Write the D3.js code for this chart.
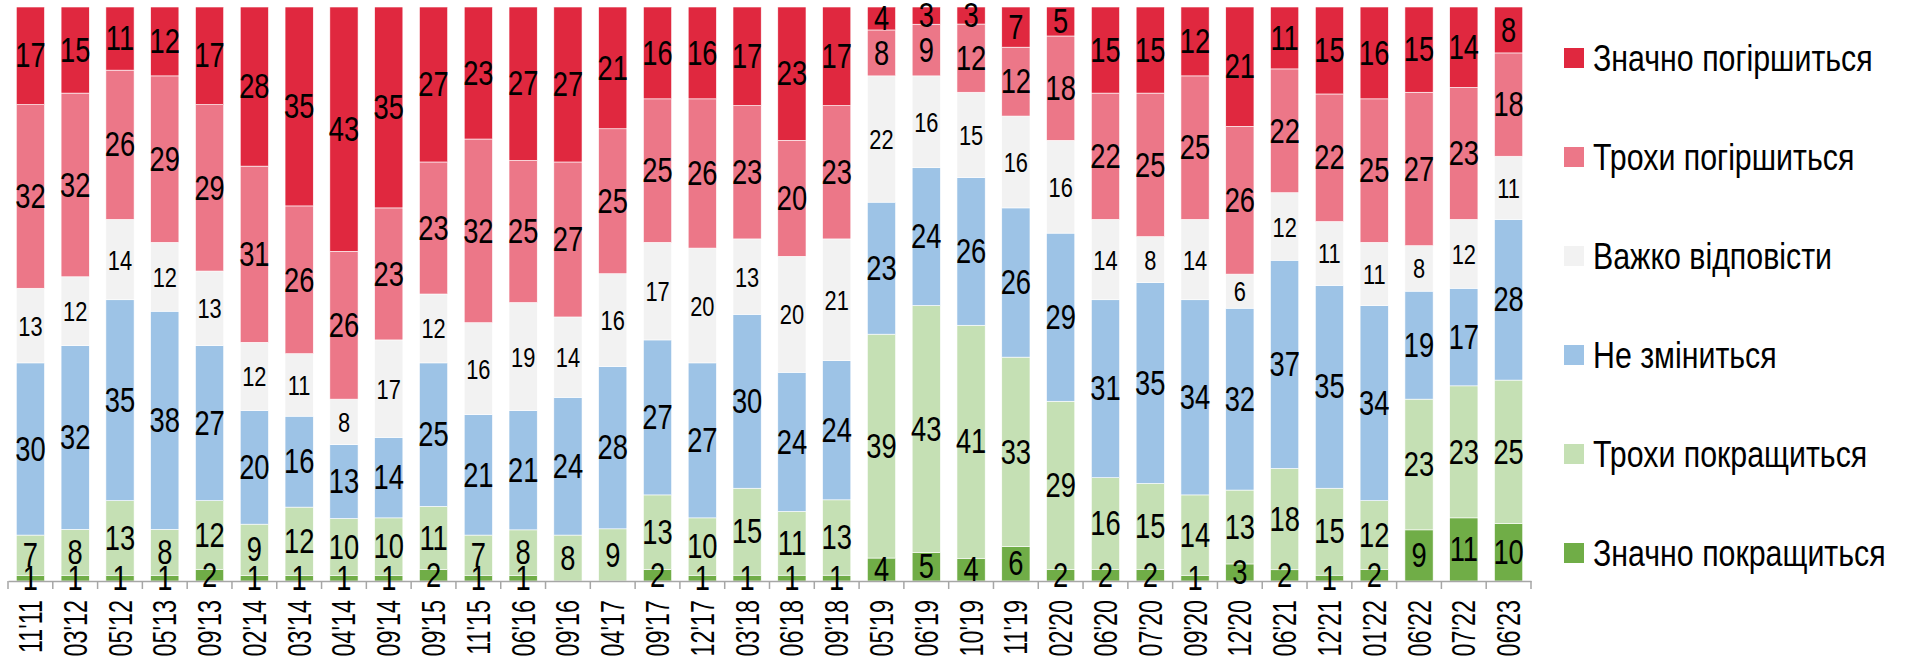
<!DOCTYPE html>
<html><head><meta charset="utf-8">
<script src="https://cdn.jsdelivr.net/npm/d3@7"></script>
<style>
html,body{margin:0;padding:0;background:#fff;}
svg{display:block;font-family:"Liberation Sans",Arial,sans-serif;}
</style></head>
<body>
<svg id="chart" width="1909" height="663"></svg>
<script>
const categories = ["11'11","03'12","05'12","05'13","09'13","02'14","03'14","04'14","09'14","09'15","11'15","06'16","09'16","04'17","09'17","12'17","03'18","06'18","09'18","05'19","06'19","10'19","11'19","02'20","06'20","07'20","09'20","12'20","06'21","12'21","01'22","06'22","07'22","06'23"];
const seriesNames = ["Значно покращиться","Трохи покращиться","Не зміниться","Важко відповісти","Трохи погіршиться","Значно погіршиться"];
const muchBetter   = [1,1,1,1,2,1,1,1,1,2,1,1,0,0,2,1,1,1,1,4,5,4,6,2,2,2,1,3,2,1,2,9,11,10];
const littleBetter = [7,8,13,8,12,9,12,10,10,11,7,8,8,9,13,10,15,11,13,39,43,41,33,29,16,15,14,13,18,15,12,23,23,25];
const noChange     = [30,32,35,38,27,20,16,13,14,25,21,21,24,28,27,27,30,24,24,23,24,26,26,29,31,35,34,32,37,35,34,19,17,28];
const hardToSay    = [13,12,14,12,13,12,11,8,17,12,16,19,14,16,17,20,13,20,21,22,16,15,16,16,14,8,14,6,12,11,11,8,12,11];
const littleWorse  = [32,32,26,29,29,31,26,26,23,23,32,25,27,25,25,26,23,20,23,8,9,12,12,18,22,25,25,26,22,22,25,27,23,18];
const muchWorse    = [17,15,11,12,17,28,35,43,35,27,23,27,27,21,16,16,17,23,17,4,3,3,7,5,15,15,12,21,11,15,16,15,14,8];
const colors = ["#70AD47","#C5E0B4","#9DC3E6","#F2F2F2","#EC7788","#E0283F"];

const seriesValues = [muchBetter, littleBetter, noChange, hardToSay, littleWorse, muchWorse];
const rows = categories.map((c,i)=>{
  const r = {cat:c};
  seriesNames.forEach((s,k)=>{ r[s]=seriesValues[k][i]; });
  return r;
});

const svg = d3.select("#chart");
const x = d3.scaleBand().domain(categories).range([8,1531]).paddingInner(0.37).paddingOuter(0.185);
const y = d3.scaleLinear().domain([0,1]).range([581,7]);
const color = d3.scaleOrdinal().domain(seriesNames).range(colors);

const stack = d3.stack().keys(seriesNames).offset(d3.stackOffsetExpand);
const stacked = stack(rows);

const layers = svg.append("g").selectAll("g").data(stacked).join("g")
  .attr("fill", d=>color(d.key));
layers.selectAll("rect").data(d=>d.map(p=>({p, key:d.key}))).join("rect")
  .attr("x", d=>x(d.p.data.cat))
  .attr("width", x.bandwidth())
  .attr("y", d=>y(d.p[1]))
  .attr("height", d=>Math.max(0, y(d.p[0]) - y(d.p[1])))
  .attr("stroke","#fff").attr("stroke-width",0.6);

// axis
const axisG = svg.append("g").attr("transform","translate(0,581)");
axisG.call(d3.axisBottom(x).tickSize(0).tickFormat(""));
axisG.select(".domain").attr("stroke","#A6A6A6").attr("stroke-width",1.5);
const gap = (x.step()-x.bandwidth())/2;
const bounds = categories.map(c=>x(c)-gap).concat([x(categories[categories.length-1])+x.bandwidth()+gap]);
axisG.selectAll("line.bt").data(bounds).join("line").attr("class","bt")
  .attr("x1",d=>d).attr("x2",d=>d).attr("y1",0).attr("y2",8)
  .attr("stroke","#A6A6A6").attr("stroke-width",1.5);
axisG.selectAll("text.tl").data(categories).join("text").attr("class","tl")
  .attr("transform", d=>`translate(${x(d)+x.bandwidth()/2},19) rotate(-90) scale(0.71,1)`)
  .attr("text-anchor","end").attr("dominant-baseline","central")
  .attr("font-size",33).attr("fill","#000").text(d=>d);

// value labels
const labG = svg.append("g");
stacked.forEach(layer=>{
  const small = layer.key === "Важко відповісти";
  labG.selectAll(null).data(layer.filter(p=>p.data[layer.key]>0)).join("text")
    .attr("transform", p=>`translate(${x(p.data.cat)+x.bandwidth()/2},${(y(p[0])+y(p[1]))/2}) scale(0.78,1)`)
    .attr("text-anchor","middle").attr("dominant-baseline","central")
    .attr("font-size", small?28:35).attr("fill","#000")
    .text(p=>p.data[layer.key]);
});

// legend
const ly = d3.scalePoint().domain(seriesNames.slice().reverse()).range([58,553]);
const leg = svg.append("g");
const li = leg.selectAll("g").data(seriesNames).join("g")
  .attr("transform", d=>`translate(1564,${ly(d)})`);
li.append("rect").attr("x",0).attr("y",-10).attr("width",20).attr("height",20).attr("fill",d=>color(d));
li.append("text").attr("transform","translate(29,0) scale(0.82,1)").attr("dominant-baseline","central")
  .attr("font-size",37).attr("fill","#000").text(d=>d);
</script>
</body></html>
